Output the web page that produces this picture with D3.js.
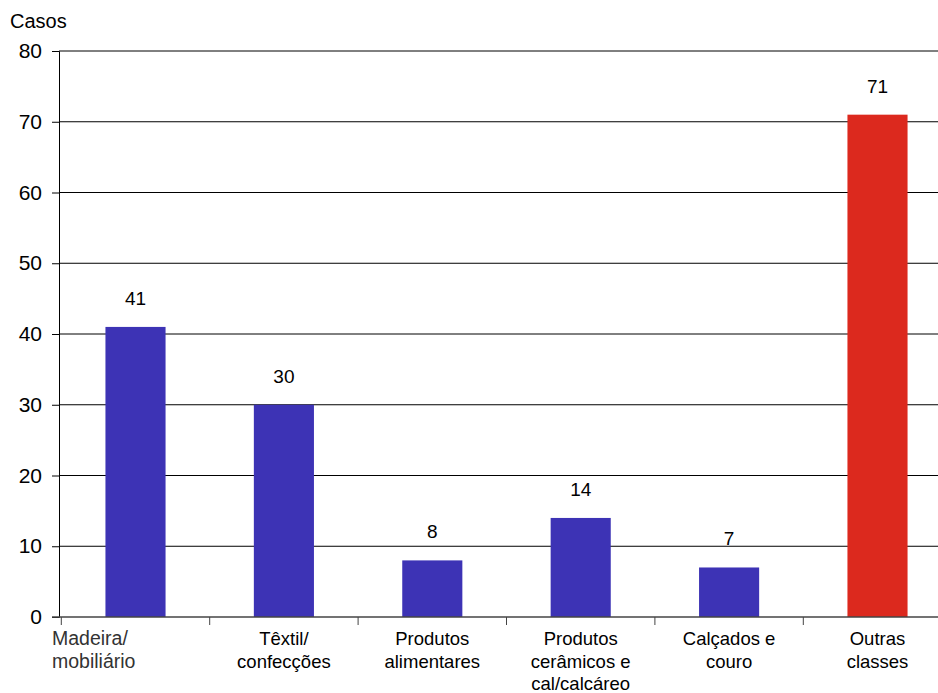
<!DOCTYPE html>
<html>
<head>
<meta charset="utf-8">
<script src="https://cdn.jsdelivr.net/npm/d3@7"></script>
<style>
  body { margin: 0; background: #fff; }
  text { font-family: "Liberation Sans", Arial, sans-serif; }
</style>
</head>
<body>
<svg id="chart"></svg>
<script>
const categories = [
  ["Madeira/", "mobiliário"],
  ["Têxtil/", "confecções"],
  ["Produtos", "alimentares"],
  ["Produtos", "cerâmicos e", "cal/calcáreo"],
  ["Calçados e", "couro"],
  ["Outras", "classes"],
];
const values = [41, 30, 8, 14, 7, 71];
const yTicks = [0, 10, 20, 30, 40, 50, 60, 70, 80];

const width = 938, height = 693;
const margin = { left: 59, right: -16, top: 51, bottom: 76 };

const svg = d3.select("#chart").attr("width", width).attr("height", height);

const x = d3.scaleBand()
  .domain(d3.range(values.length))
  .range([margin.left, width - margin.right])
  .paddingInner(0.595)
  .paddingOuter(0.313);

const y = d3.scaleLinear()
  .domain([0, 80])
  .range([height - margin.bottom, margin.top]);

// y axis
const yAxis = svg.append("g")
  .attr("transform", `translate(${margin.left},0)`)
  .call(d3.axisLeft(y).tickValues(yTicks).tickSize(7).tickPadding(10))
  .call(g => g.select(".domain").attr("stroke", "#000"));
yAxis.selectAll(".tick line").attr("stroke", "#000");
yAxis.selectAll(".tick text")
  .attr("font-size", 21).attr("fill", "#000")
  .attr("font-family", "Liberation Sans, Arial, sans-serif");

// gridlines
svg.append("g")
  .selectAll("line")
  .data(yTicks.filter(d => d > 0))
  .join("line")
  .attr("x1", margin.left).attr("x2", width)
  .attr("y1", d => y(d)).attr("y2", d => y(d))
  .attr("stroke", "#000").attr("stroke-width", 1);

// bars
svg.append("g")
  .selectAll("rect")
  .data(values)
  .join("rect")
  .attr("x", (d, i) => x(i))
  .attr("y", d => y(d))
  .attr("width", x.bandwidth())
  .attr("height", d => y(0) - y(d))
  .attr("fill", (d, i) => i === values.length - 1 ? "#dc291e" : "#3d33b5");

// value labels
svg.append("g")
  .selectAll("text")
  .data(values)
  .join("text")
  .attr("x", (d, i) => x(i) + x.bandwidth() / 2)
  .attr("y", d => y(d) - 22)
  .attr("text-anchor", "middle")
  .attr("font-size", 19)
  .text(d => d);

// x axis
const step = x.step();
const x0 = y(0);
svg.append("line")
  .attr("x1", margin.left - 7).attr("x2", width)
  .attr("y1", x0).attr("y2", x0)
  .attr("stroke", "#444").attr("stroke-width", 1.5);

svg.append("g")
  .selectAll("line")
  .data(d3.range(values.length))
  .join("line")
  .attr("x1", i => x(i) + x.bandwidth() / 2 - step / 2)
  .attr("x2", i => x(i) + x.bandwidth() / 2 - step / 2)
  .attr("y1", x0).attr("y2", x0 + 8)
  .attr("stroke", "#444");

const labels = svg.append("g")
  .selectAll("text")
  .data(categories)
  .join("text")
  .attr("font-size", (d, i) => i === 0 ? 19.5 : 18.5)
  .attr("fill", (d, i) => i === 0 ? "#333" : "#000")
  .attr("font-family", (d, i) => i === 0 ? "DejaVu Sans, sans-serif" : null)
  .attr("text-anchor", (d, i) => i === 0 ? "start" : "middle")
  .attr("x", (d, i) => i === 0 ? 52 : x(i) + x.bandwidth() / 2);

labels.selectAll("tspan")
  .data((d, i) => d.map(t => ({ t, i })))
  .join("tspan")
  .attr("x", function () { return this.parentNode.getAttribute("x"); })
  .attr("y", (d, j) => 645 + j * 22.5)
  .attr("font-weight", d => d.i === 0 ? 300 : null)
  .text(d => d.t);

svg.append("text")
  .attr("x", 10).attr("y", 28)
  .attr("font-size", 20)
  .text("Casos");
</script>
</body>
</html>
